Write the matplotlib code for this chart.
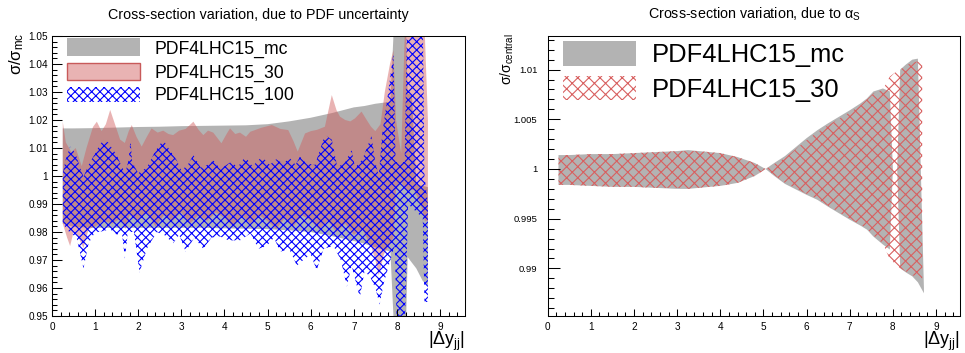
import numpy as np
import matplotlib
matplotlib.use("Agg")
import matplotlib.pyplot as plt
from matplotlib.patches import Rectangle
from matplotlib.ticker import MultipleLocator, FixedLocator, FixedFormatter

plt.rcParams['font.family'] = ['Liberation Sans', 'DejaVu Sans']
plt.rcParams['hatch.linewidth'] = 0.8

# ---------------- data: left panel (PDF uncertainty) ----------------
mc_x = [0.25, 0.5, 1.0, 1.5, 2.0, 2.5, 3.0, 3.5, 4.0, 4.5, 5.0, 5.5, 6.0, 6.5,
        7.0, 7.25, 7.5, 7.85, 7.95, 8.2, 8.25, 8.35, 8.45, 8.6, 8.72]
mc_hi = [1.0170, 1.0170, 1.0171, 1.0173, 1.0175, 1.0176, 1.0178, 1.0179, 1.0180,
         1.0181, 1.0185, 1.0195, 1.0208, 1.0225, 1.0245, 1.0250, 1.0258, 1.0265,
         1.0600, 1.0600, 1.0295, 1.0290, 0.9970, 0.9965, 0.9960]
mc_lo = [0.9830, 0.9818, 0.9815, 0.9815, 0.9815, 0.9815, 0.9815, 0.9815, 0.9813,
         0.9812, 0.9810, 0.9806, 0.9800, 0.9785, 0.9768, 0.9758, 0.9745, 0.9730,
         0.9400, 0.9400, 0.9710, 0.9690, 0.9670, 0.9625, 0.9610]

p30_hi_x = [0.25, 0.32, 0.45, 0.55, 0.69, 0.80, 0.95, 1.04, 1.15, 1.25, 1.35, 1.45,
            1.58, 1.69, 1.78, 1.85, 1.96, 2.08, 2.20, 2.31, 2.45, 2.58, 2.70, 2.81,
            2.95, 3.10, 3.28, 3.40, 3.51, 3.62, 3.74, 3.93, 4.05, 4.13, 4.25, 4.36,
            4.50, 4.60, 4.71, 4.85, 5.10, 5.30, 5.48, 5.60, 5.70, 5.87, 6.00, 6.15,
            6.33, 6.49, 6.60, 6.68, 6.80, 6.92, 7.03, 7.18, 7.30, 7.40, 7.50, 7.62,
            7.72, 7.84, 7.92, 7.98, 8.10, 8.20, 8.55, 8.65, 8.72]
p30_hi = [1.0194, 1.0120, 1.0085, 1.0100, 1.0035, 1.0100, 1.0175, 1.0194, 1.0160,
          1.0185, 1.0236, 1.0190, 1.0130, 1.0118, 1.0160, 1.0182, 1.0140, 1.0105,
          1.0140, 1.0170, 1.0155, 1.0162, 1.0150, 1.0146, 1.0162, 1.0168, 1.0194,
          1.0165, 1.0146, 1.0162, 1.0155, 1.0117, 1.0150, 1.0170, 1.0150, 1.0155,
          1.0140, 1.0158, 1.0164, 1.0172, 1.0182, 1.0168, 1.0164, 1.0125, 1.0087,
          1.0152, 1.0160, 1.0165, 1.0176, 1.0289, 1.0235, 1.0212, 1.0200, 1.0195,
          1.0206, 1.0230, 1.0200, 1.0176, 1.0160, 1.0185, 1.0300, 1.0400, 1.0450,
          1.0200, 1.0080, 1.0600, 1.0600, 1.0500, 1.0200]
p30_lo_x = [0.25, 0.35, 0.42, 0.50, 0.60, 0.73, 0.85, 1.00, 1.20, 1.40, 1.60, 1.70,
            1.80, 2.00, 2.20, 2.40, 2.60, 2.80, 3.00, 3.20, 3.40, 3.60, 3.80, 4.00,
            4.20, 4.40, 4.60, 4.80, 5.00, 5.20, 5.40, 5.60, 5.80, 6.00, 6.20, 6.40,
            6.60, 6.80, 7.00, 7.20, 7.40, 7.50, 7.58, 7.70, 7.84, 7.92, 7.98, 8.10,
            8.20, 8.40, 8.55, 8.65, 8.72]
p30_lo = [0.9830, 0.9780, 0.9750, 0.9800, 0.9785, 0.9743, 0.9810, 0.9820, 0.9840,
          0.9830, 0.9850, 0.9810, 0.9860, 0.9840, 0.9870, 0.9820, 0.9860, 0.9840,
          0.9870, 0.9830, 0.9860, 0.9840, 0.9870, 0.9850, 0.9820, 0.9860, 0.9830,
          0.9860, 0.9840, 0.9810, 0.9850, 0.9820, 0.9860, 0.9840, 0.9810, 0.9840,
          0.9800, 0.9830, 0.9790, 0.9810, 0.9750, 0.9700, 0.9645, 0.9720, 0.9760,
          0.9780, 0.9950, 0.9980, 0.9950, 0.9950, 0.9900, 0.9840, 0.9840]

p100_hi_x = [0.25, 0.32, 0.42, 0.50, 0.57, 0.65, 0.73, 0.85, 1.00, 1.10, 1.20, 1.30,
             1.50, 1.60, 1.70, 1.78, 1.82, 1.86, 2.00, 2.20, 2.40, 2.58, 2.70, 2.89,
             3.00, 3.15, 3.28, 3.45, 3.60, 3.75, 3.90, 4.05, 4.17, 4.30, 4.48, 4.65,
             4.87, 5.05, 5.20, 5.35, 5.52, 5.65, 5.75, 5.90, 6.10, 6.33, 6.49, 6.62,
             6.80, 6.95, 7.03, 7.20, 7.41, 7.50, 7.58, 7.66, 7.80, 7.92, 7.97, 8.18,
             8.24, 8.60, 8.64, 8.72]
p100_hi = [1.0010, 1.0060, 1.0105, 1.0090, 1.0069, 1.0030, 0.9998, 1.0040, 1.0080,
           1.0110, 1.0129, 1.0120, 1.0075, 1.0040, 1.0010, 1.0060, 1.0129, 1.0050,
           1.0010, 1.0030, 1.0090, 1.0129, 1.0100, 1.0057, 1.0020, 1.0040, 1.0075,
           1.0030, 1.0040, 1.0055, 1.0025, 1.0040, 1.0052, 1.0030, 1.0069, 1.0035,
           1.0069, 1.0040, 1.0060, 1.0045, 1.0063, 1.0040, 1.0069, 1.0045, 1.0040,
           1.0146, 1.0130, 1.0030, 1.0050, 1.0093, 1.0030, 1.0060, 1.0142, 1.0050,
           1.0000, 1.0150, 1.0300, 1.0440, 1.0050, 1.0050, 1.0600, 1.0600, 1.0000,
           0.9900]
p100_lo_x = [0.25, 0.40, 0.57, 0.73, 0.85, 1.00, 1.10, 1.35, 1.50, 1.62, 1.69, 1.76,
             1.90, 2.03, 2.20, 2.43, 2.60, 2.81, 2.95, 3.10, 3.30, 3.51, 3.70, 3.90,
             4.10, 4.36, 4.60, 4.79, 4.98, 5.15, 5.29, 5.50, 5.68, 5.83, 6.00, 6.14,
             6.30, 6.53, 6.70, 6.84, 6.95, 7.14, 7.25, 7.38, 7.50, 7.60, 7.70, 7.85,
             7.95, 8.00, 8.18, 8.22, 8.26, 8.60, 8.64, 8.72]
p100_lo = [0.9830, 0.9800, 0.9780, 0.9670, 0.9760, 0.9800, 0.9800, 0.9810, 0.9790,
           0.9800, 0.9705, 0.9800, 0.9800, 0.9655, 0.9740, 0.9800, 0.9790, 0.9760,
           0.9790, 0.9730, 0.9780, 0.9740, 0.9780, 0.9784, 0.9770, 0.9770, 0.9795,
           0.9740, 0.9750, 0.9780, 0.9729, 0.9740, 0.9680, 0.9700, 0.9720, 0.9664,
           0.9740, 0.9750, 0.9700, 0.9605, 0.9680, 0.9566, 0.9660, 0.9640, 0.9600,
           0.9541, 0.9620, 0.9700, 0.9750, 0.9450, 0.9450, 0.9650, 0.9900, 0.9850,
           0.9550, 0.9550]

# ---------------- data: right panel (alpha_s) ----------------
as_mc_x = [0.25, 0.5, 1.0, 1.5, 2.0, 2.5, 3.0, 3.25, 3.5, 4.0, 4.4, 4.8, 5.05,
           5.25, 5.5, 6.0, 6.25, 6.5, 7.0, 7.25, 7.4, 7.55, 7.77, 7.93, 8.0, 8.1,
           8.17, 8.3, 8.45, 8.58, 8.72]
as_mc_hi = [1.0014, 1.0014, 1.0015, 1.0015, 1.0016, 1.0017, 1.0018, 1.0019, 1.0018,
            1.0016, 1.0012, 1.0006, 1.0000, 1.0006, 1.0013, 1.0031, 1.0039, 1.0046,
            1.0059, 1.0066, 1.0071, 1.0078, 1.0081, 1.0078, 1.0000, 1.0000, 1.0100,
            1.0105, 1.0110, 1.0111, 0.9880]
as_mc_lo = [0.9984, 0.9984, 0.9983, 0.9982, 0.9982, 0.9981, 0.9980, 0.9980, 0.9981,
            0.9983, 0.9986, 0.9993, 1.0000, 0.9993, 0.9985, 0.9974, 0.9969, 0.9962,
            0.9949, 0.9943, 0.9939, 0.9932, 0.9924, 0.9919, 1.0000, 1.0000, 0.9900,
            0.9896, 0.9892, 0.9886, 0.9875]

as_30_x = [0.25, 0.5, 1.0, 1.5, 2.0, 2.5, 3.0, 3.25, 3.5, 4.0, 4.4, 4.8, 5.05,
           5.25, 5.5, 6.0, 6.25, 6.5, 7.0, 7.25, 7.4, 7.55, 7.77, 7.93, 8.05, 8.17,
           8.3, 8.45, 8.55, 8.68]
as_30_hi = [1.0014, 1.0014, 1.0015, 1.0015, 1.0016, 1.0017, 1.0018, 1.0018, 1.0018,
            1.0016, 1.0012, 1.0006, 1.0000, 1.0005, 1.0011, 1.0029, 1.0037, 1.0044,
            1.0057, 1.0064, 1.0070, 1.0076, 1.0080, 1.0093, 1.0097, 1.0100, 1.0104,
            1.0107, 1.0108, 1.0108]
as_30_lo = [0.9984, 0.9984, 0.9983, 0.9982, 0.9982, 0.9981, 0.9981, 0.9980, 0.9981,
            0.9983, 0.9986, 0.9993, 1.0000, 0.9994, 0.9986, 0.9975, 0.9970, 0.9963,
            0.9950, 0.9944, 0.9940, 0.9933, 0.9925, 0.9909, 0.9905, 0.9900, 0.9897,
            0.9893, 0.9892, 0.9890]

left_yticks = [0.95, 0.96, 0.97, 0.98, 0.99, 1.00, 1.01, 1.02, 1.03, 1.04, 1.05]
left_ylabels = ["0.95", "0.96", "0.97", "0.98", "0.99", "1", "1.01", "1.02",
                "1.03", "1.04", "1.05"]
right_yticks = [0.99, 0.995, 1.0, 1.005, 1.01]
right_ylabels = ["0.99", "0.995", "1", "1.005", "1.01"]
xticks = [0, 1, 2, 3, 4, 5, 6, 7, 8, 9]

left_labels = ["PDF4LHC15_mc", "PDF4LHC15_30", "PDF4LHC15_100"]
right_labels = ["PDF4LHC15_mc", "PDF4LHC15_30"]

# ---------------- styling ----------------
GRAY = '#b3b3b3'
RED_FILL = (208/255, 90/255, 90/255, 0.46)
RED_EDGE = '#c85a5a'
RED_HATCH = '#d86060'
BLUE = '#0000ff'
HATCH_L = 'xxxx'
HATCH_R = 'xxx'

W, H = 965, 353
fig = plt.figure(figsize=(W/100, H/100), dpi=100)

def axrect(x0, x1, ytop, ybot):
    return [x0/W, 1 - ybot/H, (x1 - x0)/W, (ybot - ytop)/H]

axL = fig.add_axes(axrect(52, 465, 36, 316))
axR = fig.add_axes(axrect(547.7, 960, 36, 316))

def band(ax, xh, yh, xl, yl, **kw):
    xs = np.concatenate([np.asarray(xh), np.asarray(xl)[::-1]])
    ys = np.concatenate([np.asarray(yh), np.asarray(yl)[::-1]])
    ax.fill(xs, ys, **kw)

# left bands
band(axL, mc_x, mc_hi, mc_x, mc_lo, facecolor=GRAY, edgecolor='none', linewidth=0)
band(axL, p30_hi_x, p30_hi, p30_lo_x, p30_lo, facecolor=RED_FILL, edgecolor='none', linewidth=0)
band(axL, p100_hi_x, p100_hi, p100_lo_x, p100_lo, facecolor='none', edgecolor=BLUE,
     hatch=HATCH_L, linewidth=0)

# right bands
band(axR, as_mc_x, as_mc_hi, as_mc_x, as_mc_lo, facecolor=GRAY, edgecolor='none', linewidth=0)
band(axR, as_30_x, as_30_hi, as_30_x, as_30_lo, facecolor='none', edgecolor=RED_HATCH,
     hatch=HATCH_R, linewidth=0)

def style_axis(ax, ylim, xlim, ymajor_len, yminor_len, yminor_step, ylabsize, ypad):
    ax.set_xlim(*xlim)
    ax.set_ylim(*ylim)
    for s in ax.spines.values():
        s.set_linewidth(0.75)
    ax.xaxis.set_major_locator(FixedLocator(xticks))
    ax.xaxis.set_minor_locator(MultipleLocator(0.2))
    ax.yaxis.set_minor_locator(MultipleLocator(yminor_step))
    ax.tick_params(axis='both', which='both', direction='in', top=False, right=False,
                   width=0.75, colors='black')
    ax.tick_params(axis='x', which='major', length=5.2, labelsize=7.2, pad=4)
    ax.tick_params(axis='x', which='minor', length=2.6)
    ax.tick_params(axis='y', which='major', length=ymajor_len, labelsize=ylabsize, pad=ypad)
    ax.tick_params(axis='y', which='minor', length=yminor_len)

style_axis(axL, (0.95, 1.05), (0, 9.58), 7.2, 3.6, 0.002, 7.2, 2.6)
axL.yaxis.set_major_locator(FixedLocator(left_yticks))
axL.yaxis.set_major_formatter(FixedFormatter(left_ylabels))

style_axis(axR, (0.98521, 1.01338), (0, 9.556), 8.6, 4.3, 0.001, 6.8, 7.5)
axR.yaxis.set_major_locator(FixedLocator(right_yticks))
axR.yaxis.set_major_formatter(FixedFormatter(right_ylabels))

# titles
fig.text(258.5/W, 1 - 19/H, "Cross-section variation, due to PDF uncertainty",
         ha='center', va='baseline', fontsize=10.3)
fig.text(754/W, 1 - 19/H, r"Cross-section variation, due to $\mathregular{α_S}$",
         ha='center', va='baseline', fontsize=10.3)

# axis titles
fig.text(17/W, 1 - 32/H, r"$\mathregular{σ/σ_{mc}}$", rotation=90, ha='center',
         va='top', fontsize=12)
fig.text(507/W, 1 - 33/H, r"$\mathregular{σ/σ_{central}}$", rotation=90, ha='center',
         va='top', fontsize=10)
fig.text(465/W, 1 - 345/H, r"$\mathregular{|Δy_{jj}|}$", ha='right', va='baseline',
         fontsize=13)
fig.text(960/W, 1 - 345/H, r"$\mathregular{|Δy_{jj}|}$", ha='right', va='baseline',
         fontsize=13)

# legends (drawn in figure pixel coordinates)
def legbox(x0, x1, ytop, ybot, **kw):
    fig.patches.append(Rectangle((x0/W, 1 - ybot/H), (x1 - x0)/W, (ybot - ytop)/H,
                                 transform=fig.transFigure, figure=fig, **kw))

legbox(67, 140, 38, 56, facecolor=GRAY, edgecolor='none', linewidth=0)
legbox(67, 140, 63, 80, facecolor=RED_FILL, edgecolor=RED_EDGE, linewidth=1.0)
legbox(67, 140, 87, 102, facecolor='none', edgecolor=BLUE, hatch=HATCH_L, linewidth=0)
for lab, yb in zip(left_labels, [53.5, 77.5, 100.2]):
    fig.text(155/W, 1 - yb/H, lab, ha='left', va='baseline', fontsize=12.7)

legbox(563, 636, 41, 66, facecolor=GRAY, edgecolor='none', linewidth=0)
legbox(563, 636, 76, 100, facecolor='none', edgecolor=RED_HATCH, hatch=HATCH_R, linewidth=0)
for lab, yb in zip(right_labels, [61.7, 96.7]):
    fig.text(651.7/W, 1 - yb/H, lab, ha='left', va='baseline', fontsize=18.4)

fig.savefig("out.png", dpi=100)
